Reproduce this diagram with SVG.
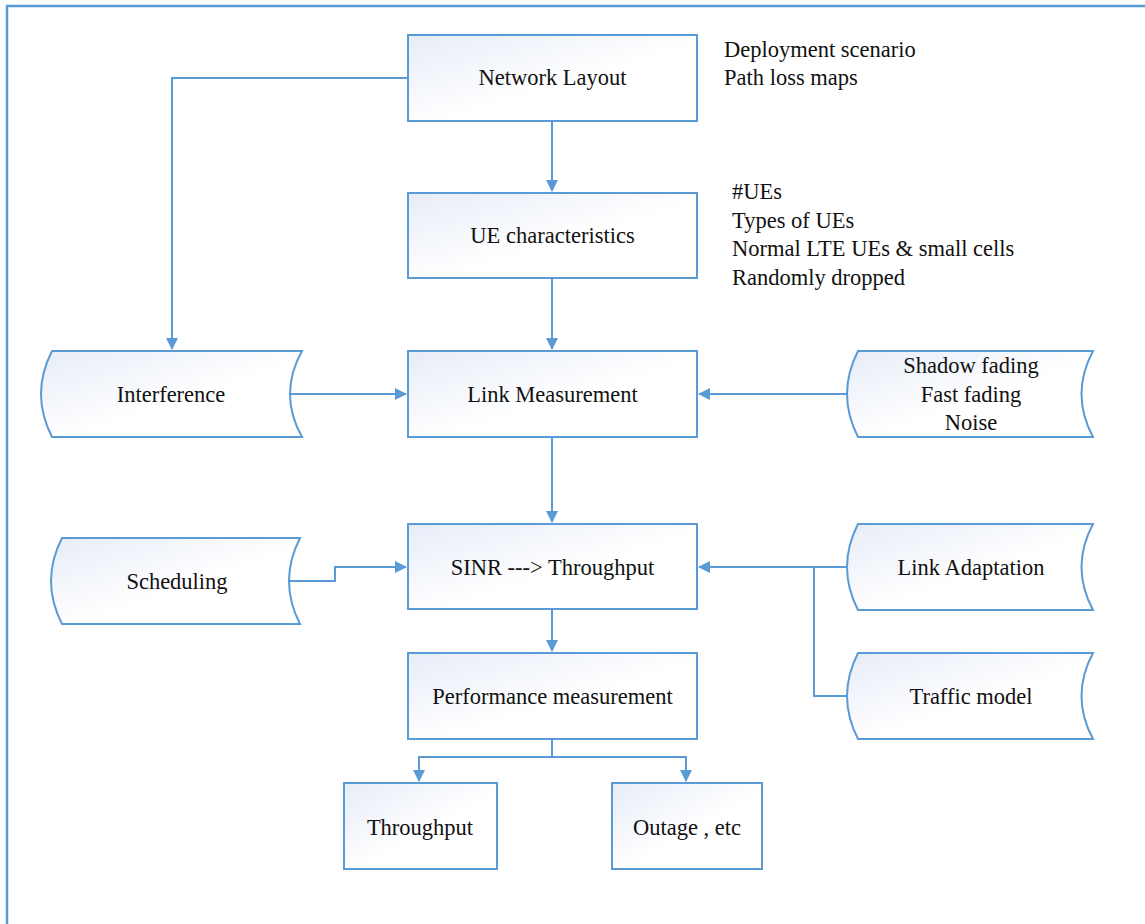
<svg xmlns="http://www.w3.org/2000/svg" width="1145" height="924" viewBox="0 0 1145 924">
<defs>
<linearGradient id="g" x1="0" y1="0" x2="1" y2="1">
<stop offset="0" stop-color="#E6ECF7"/>
<stop offset="0.55" stop-color="#FFFFFF"/>
<stop offset="1" stop-color="#FFFFFF"/>
</linearGradient>
<marker id="a" viewBox="0 0 12 12" refX="11" refY="6" markerWidth="12" markerHeight="12" markerUnits="userSpaceOnUse" orient="auto">
<path d="M0,0 L12,6 L0,12 Z" fill="#5B9BD5"/>
</marker>
</defs>
<style>
.n{fill:url(#g);stroke:#5B9BD5;stroke-width:2}
.t{font-family:"Liberation Serif","Times New Roman",serif;font-size:22.5px;fill:#111}
.c{text-anchor:middle}
.e{fill:none;stroke:#5B9BD5;stroke-width:2}
</style>
<rect width="1145" height="924" fill="#fff"/>
<path d="M7,924 V6 H1145" fill="none" stroke="#5B9BD5" stroke-width="2.5"/>

<g id="connectors" class="e">
<path d="M408,78 H172 V349" marker-end="url(#a)"/>
<path d="M552,121 V191" marker-end="url(#a)"/>
<path d="M552,278 V349" marker-end="url(#a)"/>
<path d="M290,394 H406" marker-end="url(#a)"/>
<path d="M848,394 H699" marker-end="url(#a)"/>
<path d="M552,437 V522" marker-end="url(#a)"/>
<path d="M290,581 H335 V567 H406" marker-end="url(#a)"/>
<path d="M848,567 H699" marker-end="url(#a)"/>
<path d="M848,696 H814 V567"/>
<path d="M552,609 V651" marker-end="url(#a)"/>
<path d="M552,739 V757 H419 V781" marker-end="url(#a)"/>
<path d="M552,757 H686 V781" marker-end="url(#a)"/>
</g>

<g id="network-layout">
<rect class="n" x="408" y="35" width="289" height="86"/>
<text class="t c" x="552.5" y="85">Network Layout</text>
</g>
<g id="network-notes">
<text class="t" x="724" y="57">Deployment scenario</text>
<text class="t" x="724" y="85">Path loss maps</text>
</g>
<g id="ue-characteristics">
<rect class="n" x="408" y="193" width="289" height="85"/>
<text class="t c" x="552.5" y="243">UE characteristics</text>
</g>
<g id="ue-notes">
<text class="t" x="732" y="199">#UEs</text>
<text class="t" x="732" y="228">Types of UEs</text>
<text class="t" x="732" y="256">Normal LTE UEs &amp; small cells</text>
<text class="t" x="732" y="285">Randomly dropped</text>
</g>
<g id="interference">
<path class="n" d="M52,351 H302 Q278,394 302,437 H52 Q30,394 52,351 Z"/>
<text class="t c" x="171" y="402">Interference</text>
</g>
<g id="link-measurement">
<rect class="n" x="408" y="351" width="289" height="86"/>
<text class="t c" x="552.5" y="402">Link Measurement</text>
</g>
<g id="fading">
<path class="n" d="M858,351 H1093 Q1070,394 1093,437 H858 Q836,394 858,351 Z"/>
<text class="t c" x="971" y="373">Shadow fading</text>
<text class="t c" x="971" y="402">Fast fading</text>
<text class="t c" x="971" y="430">Noise</text>
</g>
<g id="scheduling">
<path class="n" d="M62,538 H300 Q278,581 300,624 H62 Q40,581 62,538 Z"/>
<text class="t c" x="177" y="589">Scheduling</text>
</g>
<g id="sinr-throughput">
<rect class="n" x="408" y="524" width="289" height="85"/>
<text class="t c" x="552.5" y="575">SINR ---&gt; Throughput</text>
</g>
<g id="link-adaptation">
<path class="n" d="M858,524 H1093 Q1070,567 1093,610 H858 Q836,567 858,524 Z"/>
<text class="t c" x="971" y="575">Link Adaptation</text>
</g>
<g id="traffic-model">
<path class="n" d="M858,653 H1093 Q1070,696 1093,739 H858 Q836,696 858,653 Z"/>
<text class="t c" x="971" y="704">Traffic model</text>
</g>
<g id="performance-measurement">
<rect class="n" x="408" y="653" width="289" height="86"/>
<text class="t c" x="552.5" y="704">Performance measurement</text>
</g>
<g id="throughput">
<rect class="n" x="344" y="783" width="153" height="86"/>
<text class="t c" x="420" y="835">Throughput</text>
</g>
<g id="outage">
<rect class="n" x="612" y="783" width="150" height="86"/>
<text class="t c" x="687" y="835">Outage , etc</text>
</g>
</svg>
